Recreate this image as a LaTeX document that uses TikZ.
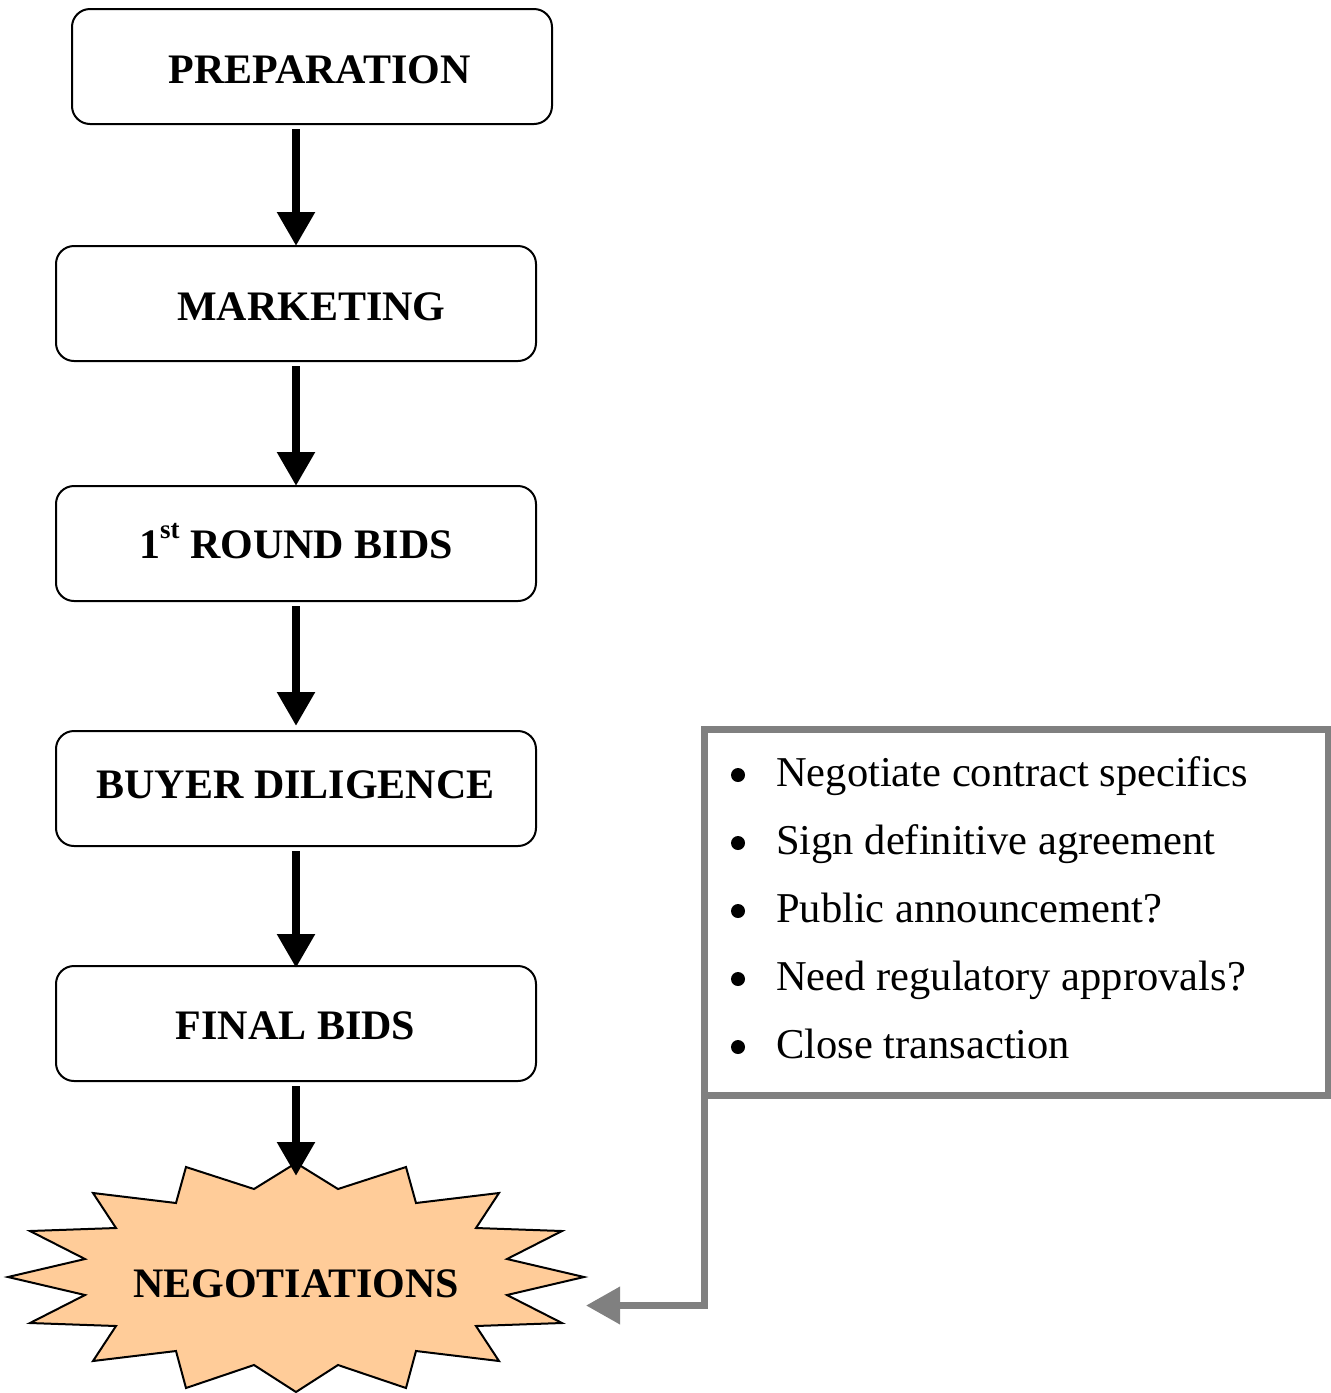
\documentclass[tikz,border=0pt]{standalone}
\usepackage{fontspec}
\setmainfont{Liberation Serif}
\usetikzlibrary{arrows.meta}

\definecolor{peach}{HTML}{FFCC99}
\definecolor{notegray}{HTML}{808080}

\begin{document}
\begin{tikzpicture}[x=1pt,y=-1pt,
  stagebox/.style={draw=black, line width=2pt, rounded corners=18pt,
    minimum width=480pt, minimum height=115pt, inner sep=0pt, outer sep=0pt},
  title/.style={anchor=base, inner sep=0pt,
    font=\bfseries\fontsize{42}{50}\selectfont},
  flow/.style={draw=black, line width=8.5pt,
    -{Triangle[width=36pt,length=34pt]}},
  notebox/.style={draw=notegray, line width=7pt, minimum width=624pt,
    minimum height=366pt, inner sep=0pt, outer sep=0pt},
  item/.style={anchor=base west, inner sep=0pt,
    font=\fontsize{42.5}{50}\selectfont},
  dot/.style={fill=black},
  feedback/.style={draw=notegray, line width=7pt,
    -{Triangle[width=36pt,length=34pt]}}
]
\useasboundingbox (0,0) rectangle (1331,1393);

% stage boxes
\node[stagebox] (prep)  at (312,66.5)  {};
\node[stagebox] (mkt)   at (296,303.5) {};
\node[stagebox] (round) at (296,543.5) {};
\node[stagebox] (dilig) at (296,788.5) {};
\node[stagebox] (final) at (296,1023.5) {};

\node[title] (prepT)  at (319.5,83)  {PREPARATION};
\node[title] (mktT)   at (311.5,320) {MARKETING};
\node[title] (roundT) at (296,558)
  {1\raisebox{20pt}{\fontsize{27}{27}\selectfont st} ROUND BIDS};
\node[title] (diligT) at (295.5,798) {BUYER DILIGENCE};
\node[title] (finalT) at (295.5,1039){FINAL BIDS};

% negotiation starburst
\draw[fill=peach, line width=2pt, line join=miter, shift={(296,1277)}]
  (0,-114) -- (42,-88) -- (110,-110) -- (120,-74) -- (203,-84) -- (180,-49)
  -- (266,-46) -- (211,-18) -- (288,0) -- (211,18) -- (266,46) -- (180,49)
  -- (203,84) -- (120,74) -- (110,111) -- (42,88) -- (0,115) -- (-42,88)
  -- (-110,111) -- (-120,74) -- (-203,84) -- (-180,49) -- (-266,46)
  -- (-211,18) -- (-288,0) -- (-211,-18) -- (-266,-46) -- (-180,-49)
  -- (-203,-84) -- (-120,-74) -- (-110,-110) -- (-42,-88) -- cycle;
\node[title] (neg) at (296,1297) {NEGOTIATIONS};
\coordinate (negtop) at (296,1176);
\coordinate (negright) at (586,1305.5);

% main flow
\draw[flow, shorten <=5pt] (prep.south -| mkt.north) -- (mkt.north);
\draw[flow, shorten <=5pt] (mkt.south) -- (round.north);
\draw[flow, shorten <=5pt, shorten >=5pt] (round.south) -- (dilig.north);
\draw[flow, shorten <=5pt, shorten >=-2pt] (dilig.south) -- (final.north);
\draw[flow, shorten <=5pt] (final.south) -- (negtop);

% closing steps
\node[notebox] (notes) at (1016,912) {};
\foreach \y in {786,854,922,990,1058}
  \fill[dot] (738,\y-11) circle (7pt);
\node[item] (n1) at (776,786)  {Negotiate contract specifics};
\node[item] (n2) at (776,854)  {Sign definitive agreement};
\node[item] (n3) at (776,922)  {Public announcement?};
\node[item] (n4) at (776,990)  {Need regulatory approvals?};
\node[item] (n5) at (776,1058) {Close transaction};

\draw[feedback] (notes.south west) |- (negright);
\end{tikzpicture}
\end{document}
